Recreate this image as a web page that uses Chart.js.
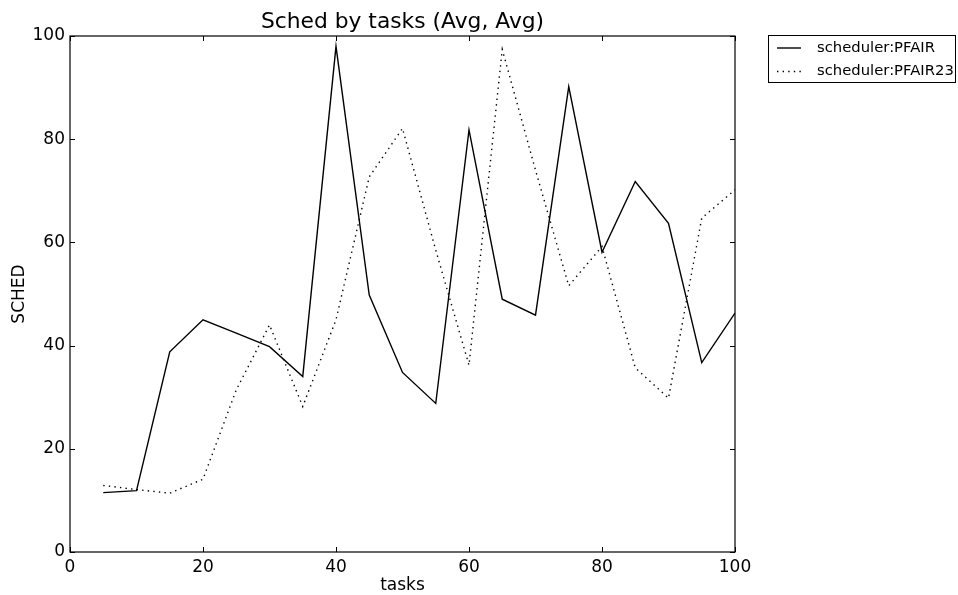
<!DOCTYPE html>
<html>
<head>
<meta charset="utf-8">
<script src="https://cdn.jsdelivr.net/npm/chart.js@4"></script>
<style>
  html, body { margin: 0; padding: 0; background: #fff; }
  #wrap { width: 958px; height: 595px; }
</style>
</head>
<body>
<div id="wrap"><canvas id="chart" width="958" height="595"></canvas></div>
<script>
const tasks = [5, 10, 15, 20, 25, 30, 35, 40, 45, 50, 55, 60, 65, 70, 75, 80, 85, 90, 95, 100];
const pfair = [11.5, 11.9, 38.8, 45.0, 42.4, 39.8, 34.0, 98.0, 49.8, 34.8, 28.8, 81.8, 49.0, 45.9, 90.2, 58.1, 71.8, 63.7, 36.7, 46.3];
const pfair23 = [12.9, 12.1, 11.4, 14.1, 31.4, 44.0, 28.2, 45.0, 72.7, 82.1, 58.5, 36.2, 97.4, 74.0, 51.6, 59.2, 35.7, 29.8, 64.7, 70.2];
const xTicks = [0, 20, 40, 60, 80, 100];
const yTicks = [0, 20, 40, 60, 80, 100];

const FONT = "'DejaVu Sans', sans-serif";

function toPoints(ys) {
  return tasks.map((t, i) => ({ x: t, y: ys[i] }));
}

// frame, inward ticks, title and legend box, drawn matplotlib-style
const mplDecor = {
  id: 'mplDecor',
  afterDraw(chart) {
    const ctx = chart.ctx;
    const a = chart.chartArea;
    const xs = chart.scales.x, ys = chart.scales.y;
    ctx.save();
    ctx.strokeStyle = '#000';
    ctx.lineWidth = 1.2;
    ctx.strokeRect(a.left, a.top, a.right - a.left, a.bottom - a.top);

    ctx.lineWidth = 1;
    const tl = 5;
    ctx.beginPath();
    xTicks.forEach(v => {
      const px = Math.round(xs.getPixelForValue(v)) + 0.5;
      ctx.moveTo(px, a.bottom); ctx.lineTo(px, a.bottom - tl);
      ctx.moveTo(px, a.top); ctx.lineTo(px, a.top + tl);
    });
    yTicks.forEach(v => {
      const py = Math.round(ys.getPixelForValue(v)) + 0.5;
      ctx.moveTo(a.left, py); ctx.lineTo(a.left + tl, py);
      ctx.moveTo(a.right, py); ctx.lineTo(a.right - tl, py);
    });
    ctx.stroke();

    // title
    ctx.fillStyle = '#000';
    ctx.font = '21.8px ' + FONT;
    ctx.textAlign = 'center';
    ctx.textBaseline = 'middle';
    ctx.fillText('Sched by tasks (Avg, Avg)', (a.left + a.right) / 2, 22);

    // legend
    const bx = 768, by = 35, bw = 187, bh = 47;
    ctx.fillStyle = '#fff';
    ctx.fillRect(bx, by, bw, bh);
    ctx.strokeStyle = '#000';
    ctx.lineWidth = 1;
    ctx.strokeRect(bx + 0.5, by + 0.5, bw, bh);
    ctx.font = '14.8px ' + FONT;
    ctx.textAlign = 'left';
    ctx.textBaseline = 'middle';
    chart.data.datasets.forEach((ds, i) => {
      const ry = 48 + i * 23.5;
      ctx.beginPath();
      ctx.lineWidth = ds.borderWidth;
      ctx.setLineDash(ds.borderDash || []);
      ctx.moveTo(777, ry); ctx.lineTo(801, ry);
      ctx.stroke();
      ctx.setLineDash([]);
      ctx.fillStyle = '#000';
      ctx.fillText(ds.label, 817, ry);
    });
    ctx.restore();
  }
};

new Chart(document.getElementById('chart'), {
  type: 'line',
  data: {
    datasets: [
      {
        label: 'scheduler:PFAIR',
        data: toPoints(pfair),
        borderColor: '#000',
        borderWidth: 1.4,
        pointRadius: 0,
        tension: 0,
        fill: false
      },
      {
        label: 'scheduler:PFAIR23',
        data: toPoints(pfair23),
        borderColor: '#000',
        borderWidth: 1.4,
        borderDash: [1.4, 4.2],
        pointRadius: 0,
        tension: 0,
        fill: false
      }
    ]
  },
  options: {
    responsive: false,
    animation: false,
    layout: { padding: { top: 36, right: 223, left: 0, bottom: 0 } },
    plugins: {
      legend: { display: false },
      title: { display: false },
      tooltip: { enabled: false }
    },
    scales: {
      x: {
        type: 'linear',
        min: 0,
        max: 100,
        afterFit(scale) { scale.height = 43; },
        afterBuildTicks(scale) { scale.ticks = xTicks.map(v => ({ value: v })); },
        grid: { display: false, drawTicks: false },
        border: { display: false },
        ticks: { color: '#000', font: { family: FONT, size: 17 }, padding: 5, maxRotation: 0 },
        title: { display: true, text: 'tasks', color: '#000', font: { family: FONT, size: 17, lineHeight: 1.0 }, padding: { top: 0, bottom: 1 } }
      },
      y: {
        min: 0,
        max: 100,
        afterFit(scale) { scale.width = 70; },
        afterBuildTicks(scale) { scale.ticks = yTicks.map(v => ({ value: v })); },
        grid: { display: false, drawTicks: false },
        border: { display: false },
        ticks: { color: '#000', font: { family: FONT, size: 17 }, padding: 5 },
        title: { display: true, text: 'SCHED', color: '#000', font: { family: FONT, size: 17 }, padding: { top: 9, bottom: 0 } }
      }
    }
  },
  plugins: [mplDecor]
});
</script>
</body>
</html>
